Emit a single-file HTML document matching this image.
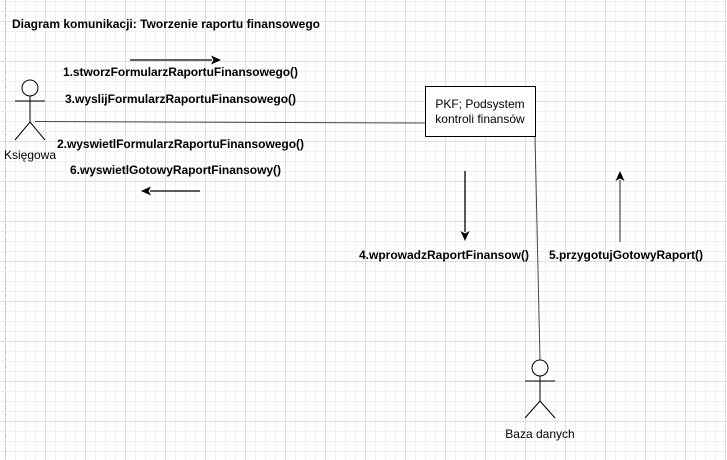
<!DOCTYPE html>
<html><head><meta charset="utf-8"><style>
html,body{margin:0;padding:0;background:#fff;}
svg{display:block;font-family:"Liberation Sans",Arial,sans-serif;}
</style></head><body>
<svg width="727" height="460" xmlns="http://www.w3.org/2000/svg">
<defs>
<pattern id="minor" width="10" height="10" patternUnits="userSpaceOnUse" x="5" y="1">
<path d="M0 0.5H10M0.5 0V10" stroke="#f0f0f0" stroke-width="1" fill="none"/>
</pattern>
<pattern id="major" width="40" height="40" patternUnits="userSpaceOnUse" x="5" y="21">
<path d="M0 0.5H40M0.5 0V40" stroke="#dedede" stroke-width="1" fill="none"/>
</pattern>
</defs>
<rect width="727" height="460" fill="url(#minor)"/>
<rect width="727" height="460" fill="url(#major)"/>
<line x1="5.5" y1="0" x2="5.5" y2="460" stroke="#c8c8c8" stroke-dasharray="4 3"/>

<text x="12" y="28" font-size="12" font-weight="bold" textLength="308">Diagram komunikacji: Tworzenie raportu finansowego</text>

<line x1="130" y1="60" x2="212" y2="60" stroke="#000" stroke-width="1.3"/>
<path d="M221 60 L211 55.5 L213.5 60 L211 64.5Z" fill="#000"/>
<g font-size="12" font-weight="bold">
<text x="63" y="76" textLength="235">1.stworzFormularzRaportuFinansowego()</text>
<text x="65" y="103" textLength="231">3.wyslijFormularzRaportuFinansowego()</text>
<text x="57" y="148" textLength="247">2.wyswietlFormularzRaportuFinansowego()</text>
<text x="70" y="174" textLength="211">6.wyswietlGotowyRaportFinansowy()</text>
<text x="359" y="259" textLength="170">4.wprowadzRaportFinansow()</text>
<text x="549" y="259" textLength="154">5.przygotujGotowyRaport()</text>
</g>
<line x1="200" y1="191" x2="150" y2="191" stroke="#000" stroke-width="1.3"/>
<path d="M141 191 L151 186.5 L148.5 191 L151 195.5Z" fill="#000"/>
<line x1="465" y1="171" x2="465" y2="232" stroke="#000" stroke-width="1.3"/>
<path d="M465 241 L460.5 231 L465 233.5 L469.5 231Z" fill="#000"/>
<line x1="620" y1="242" x2="620" y2="180" stroke="#555" stroke-width="1.3"/>
<path d="M620 171 L615.5 181 L620 178.5 L624.5 181Z" fill="#000"/>

<g stroke="#000" fill="none" stroke-width="1">
<circle cx="30" cy="88" r="8" fill="#fff"/>
<line x1="30" y1="96" x2="30" y2="122"/>
<line x1="15" y1="101" x2="45" y2="101"/>
<line x1="30" y1="122" x2="15" y2="140"/>
<line x1="30" y1="122" x2="45" y2="140"/>
</g>
<text x="30" y="159" font-size="12" text-anchor="middle">Księgowa</text>

<line x1="35" y1="121.5" x2="425" y2="123" stroke="#444" stroke-width="1"/>
<line x1="535" y1="136" x2="540" y2="360" stroke="#444" stroke-width="1"/>

<rect x="425.5" y="86.5" width="110" height="50" fill="#fff" stroke="#000"/>
<text x="480" y="108" font-size="12" text-anchor="middle">PKF; Podsystem</text>
<text x="480" y="123" font-size="12" text-anchor="middle">kontroli finansów</text>

<g stroke="#000" fill="none" stroke-width="1">
<circle cx="540" cy="368" r="8" fill="#fff"/>
<line x1="540" y1="376" x2="540" y2="401"/>
<line x1="525" y1="381" x2="555" y2="381"/>
<line x1="540" y1="401" x2="525" y2="418"/>
<line x1="540" y1="401" x2="555" y2="418"/>
</g>
<text x="540" y="438" font-size="12" text-anchor="middle">Baza danych</text>
</svg>
</body></html>
